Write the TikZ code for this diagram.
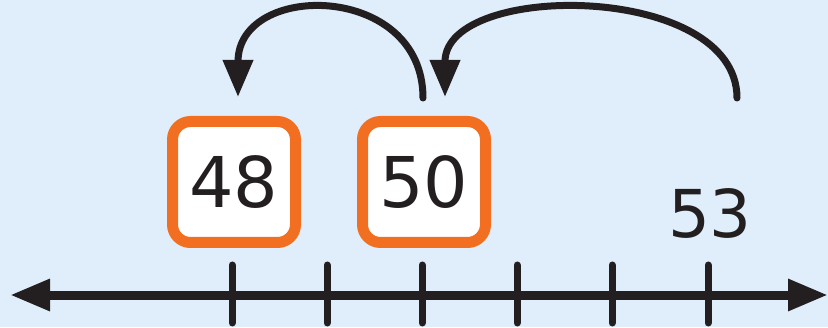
\documentclass[tikz,border=0pt]{standalone}
\usepackage{fontspec}
\setmainfont{DejaVu Sans}
\usetikzlibrary{arrows.meta}

\definecolor{bgblue}{RGB}{223,238,250}
\definecolor{boxorange}{RGB}{242,111,34}
\definecolor{ink}{RGB}{35,31,32}

\begin{document}
\begin{tikzpicture}[x=1pt,y=1pt,
  numbox/.style={draw=boxorange, line width=11pt, fill=white, rounded corners=18pt,
    minimum width=123pt, minimum height=121pt, inner sep=0pt, text=ink,
    font=\fontsize{70}{70}\selectfont},
  numlabel/.style={text=ink, inner sep=0pt, font=\fontsize{66}{66}\selectfont},
  jump/.style={ink, line width=7pt, line cap=round, -{Triangle[length=37pt,width=29pt]}},
  tickmark/.style={ink, line width=7pt, line cap=round}]
  \fill[bgblue] (0,0) rectangle (828,327);
  \useasboundingbox (0,0) rectangle (828,327);

  % number line
  \coordinate (lineL) at (10,32);
  \coordinate (lineR) at (828,32);
  \draw[ink, line width=9pt, {Triangle[length=40pt,width=30pt]}-{Triangle[length=40pt,width=30pt]}] (lineL) -- (lineR);
  \foreach \x [count=\i] in {232,327,422,517,612,708} {
    \coordinate (t\i) at (\x,32);
    \draw[tickmark] (\x,4) -- (\x,62);
  }

  % numbers
  \node[numbox] (n48) at (234,145) {48};
  \node[numbox] (n50) at (424,145) {50};
  \node[numlabel] (n53) at (710,114) {53};

  % jumps
  \coordinate (s1) at (423,229);
  \coordinate (e1) at (238,230);
  \coordinate (s2) at (737,229);
  \coordinate (e2) at (445,230);
  \draw[jump] (s1) .. controls +(0,116) and +(0,116) .. (e1);
  \draw[jump] (s2) .. controls +(0,116) and +(0,116) .. (e2);
\end{tikzpicture}
\end{document}
